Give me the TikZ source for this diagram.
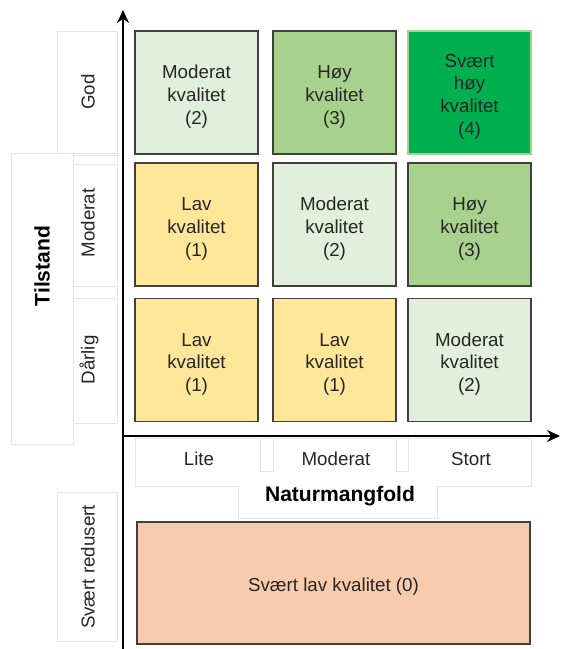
\documentclass[tikz,border=0pt]{standalone}
\usepackage{fontspec}
\setmainfont{Liberation Sans}
\usepackage{tikz}
\usetikzlibrary{positioning}
\usetikzlibrary{arrows.meta}

\definecolor{lav}{RGB}{255,230,153}
\definecolor{moderat}{RGB}{226,239,218}
\definecolor{hoy}{RGB}{169,209,142}
\definecolor{svhoy}{RGB}{0,176,80}
\definecolor{svlav}{RGB}{248,203,173}
\definecolor{kant}{RGB}{64,64,64}
\definecolor{lys}{RGB}{230,230,230}

\newcommand{\opp}{\rule{0pt}{18.5pt}}

\begin{document}
\begin{tikzpicture}[x=0.03cm,y=-0.03cm,
  felt/.style={draw=kant,line width=1.3pt,minimum width=3.69cm,minimum height=3.69cm,
    align=center,inner sep=0pt,text=black!85,font=\fontsize{16}{19.5}\selectfont},
  lbox/.style={draw=lys,fill=white,line width=0.6pt},
  ltxt/.style={text=black!85,font=\fontsize{16}{19}\selectfont},
  htxt/.style={text=black,font=\bfseries\fontsize{18}{21}\selectfont},
  akse/.style={line width=2pt,-{Stealth[length=3.9mm,width=3.6mm]}}]

\useasboundingbox (0,0) rectangle (561,649);

\coordinate (o) at (123,436);
\coordinate (ytop) at (123,10);
\coordinate (ybot) at (123,649);
\coordinate (xend) at (560,436);

% label boxes, left side
\draw[lbox] (11,153) rectangle (73,444);
\draw[lbox] (73,155) rectangle (117,423);
\draw[lbox] (57,31) rectangle (117,153);
\draw[lbox] (73,164) rectangle (117,286);
\draw[lbox] (73,298) rectangle (117,423);
\draw[lbox] (57,492) rectangle (117,641);

% label boxes, under the x axis
\draw[lbox] (135,438) -- (531,438) -- (531,486) -- (437,486) -- (437,518)
  -- (238,518) -- (238,486) -- (135,486) -- cycle;
\draw[lbox] (260,438) rectangle (273,471);
\draw[lbox] (396,438) rectangle (408,471);

% axes
\draw[akse] (ybot) -- (ytop);
\draw[akse] (o) -- (xend);

% quality boxes
\node[felt,fill=moderat] (g1) at (196.5,92.5) {\opp Moderat\\kvalitet\\(2)};
\node[felt,fill=hoy] (g2) at (334.5,92.5) {\opp Høy\\kvalitet\\(3)};
\node[felt,fill=svhoy,draw=hoy] (g3) at (469.5,92.5) {\opp Svært\\høy\\kvalitet\\(4)};
\node[felt,fill=lav] (m1) at (196.5,224.5) {\opp Lav\\kvalitet\\(1)};
\node[felt,fill=moderat] (m2) at (334.5,224.5) {\opp Moderat\\kvalitet\\(2)};
\node[felt,fill=hoy] (m3) at (469.5,224.5) {\opp Høy\\kvalitet\\(3)};
\node[felt,fill=lav] (d1) at (196.5,360) {\opp Lav\\kvalitet\\(1)};
\node[felt,fill=lav] (d2) at (334.5,360) {\opp Lav\\kvalitet\\(1)};
\node[felt,fill=moderat] (d3) at (469.5,360) {\opp Moderat\\kvalitet\\(2)};
\node[felt,fill=svlav,minimum width=11.79cm,minimum height=3.66cm] (s0) at (333.5,583) {\opp Svært lav kvalitet (0)};

% axis texts
\node[ltxt,rotate=90] (tgod) at (88,92) {God};
\node[ltxt,rotate=90] (tmod) at (88,223) {Moderat};
\node[ltxt,rotate=90] (tdar) at (89,360) {Dårlig};
\node[ltxt,rotate=90] (tsvr) at (88,567) {Svært redusert};
\node[htxt,rotate=90] (tilstand) at (42,266) {Tilstand};
\node[ltxt,anchor=base] (nlite) at (199,465) {Lite};
\node[ltxt,anchor=base] (nmod) at (336,465) {Moderat};
\node[ltxt,anchor=base] (nstort) at (471,465) {Stort};
\node[htxt,anchor=base] (natur) at (340,501) {Naturmangfold};
\end{tikzpicture}
\end{document}
